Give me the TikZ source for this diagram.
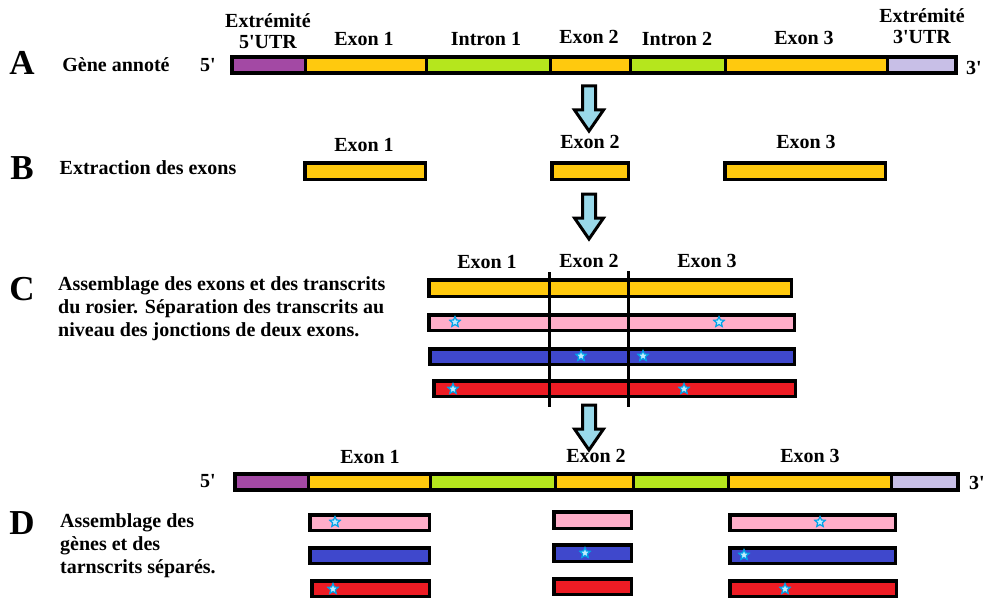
\documentclass[tikz,border=0pt]{standalone}
\usepackage{fontspec}
\setmainfont{Liberation Serif}
\usetikzlibrary{shapes.geometric,fit}
\definecolor{cpurple}{RGB}{163,73,164}
\definecolor{cyellow}{RGB}{255,201,14}
\definecolor{cgreen}{RGB}{181,230,29}
\definecolor{clav}{RGB}{200,191,231}
\definecolor{cpink}{RGB}{255,174,201}
\definecolor{cblue}{RGB}{63,72,204}
\definecolor{cred}{RGB}{237,28,36}
\definecolor{carrow}{RGB}{153,217,234}
\definecolor{cstar}{RGB}{0,162,232}
\definecolor{cstarfill}{RGB}{190,235,255}
\newcommand\mkbar[6]{\node[barbox, fill=#6, minimum width={#4-#2-3.5}, minimum height={#5-#3-3.5}] (#1) at ({(#2+#4)/2},{(#3+#5)/2}) {};}
\newcommand\mkseg[6]{\node[segbox, fill=#6, minimum width={#3-#2}, minimum height={#5-#4}] (#1) at ({(#2+#3)/2},{(#4+#5)/2}) {};}
\newcommand\mkstar[3]{\node[starmark] (#1) at (#2,#3) {};}
\newcommand\apos{\textquotesingle}
\begin{document}
\begin{tikzpicture}[x=1pt,y=-1pt,
  barbox/.style={draw=black, line width=3.5pt, rectangle, inner sep=0pt, outer sep=0pt},
  segbox/.style={draw=black, line width=3pt, rectangle, inner sep=0pt, outer sep=0pt},
  framebox/.style={draw=black, line width=4pt, rectangle, inner sep=0pt, outer sep=0pt},
  lbl/.style={font=\fontsize{20}{21}\selectfont\bfseries, inner sep=0pt},
  para/.style={font=\fontsize{20}{23}\selectfont\bfseries, inner sep=0pt, align=left, anchor=west},
  bigletter/.style={font=\fontsize{35}{36}\selectfont\bfseries, inner sep=0pt},
  starmark/.style={star, star points=5, star point ratio=2.2, minimum size=11pt, inner sep=0pt, draw=cstar, fill=cstarfill, line width=1.2pt},
  junction/.style={draw=black, line width=3pt},
  downarrow/.pic={\draw[line width=3pt, fill=carrow, line join=miter] (-6.5,0) -- (6.5,0) -- (6.5,24) -- (14.5,24) -- (0,45) -- (-14.5,24) -- (-6.5,24) -- cycle;}
]
\useasboundingbox (0,0) rectangle (985,599);

% ---------- A ----------
\node[bigletter] (LA) at (22,63) {A};
\node[lbl] (tA) at (116,65) {Gène annoté};
\node[lbl] (a5) at (208,65) {5\apos};
\node[lbl] (a3) at (974,68) {3\apos};
\mkseg{a1}{232}{305}{57}{73}{cpurple}
\mkseg{a2}{305}{426}{57}{73}{cyellow}
\mkseg{a3s}{426}{550}{57}{73}{cgreen}
\mkseg{a4}{550}{630}{57}{73}{cyellow}
\mkseg{a5s}{630}{725}{57}{73}{cgreen}
\mkseg{a6}{725}{887}{57}{73}{cyellow}
\mkseg{a7}{887}{956}{57}{73}{clav}
\node[framebox, fit=(a1)(a7)] (geneA) {};
\node[lbl, align=center] (utr5) at (268,31) {Extrémité\\5\apos UTR};
\node[lbl] (ae1) at (364,39) {Exon 1};
\node[lbl] (ai1) at (486,39) {Intron 1};
\node[lbl] (ae2) at (589,37) {Exon 2};
\node[lbl] (ai2) at (677,39) {Intron 2};
\node[lbl] (ae3) at (804,38) {Exon 3};
\node[lbl, align=center] (utr3) at (922,26) {Extrémité\\3\apos UTR};

\pic at (589,86) {downarrow};

% ---------- B ----------
\node[bigletter] (LB) at (22,168) {B};
\node[lbl] (tB) at (148,168) {Extraction des exons};
\mkbar{b1}{303}{161}{427}{181}{cyellow}
\mkbar{b2}{550}{161}{630}{181}{cyellow}
\mkbar{b3}{723}{161}{887}{181}{cyellow}
\node[lbl] (be1) at (364,145) {Exon 1};
\node[lbl] (be2) at (590,142) {Exon 2};
\node[lbl] (be3) at (806,142) {Exon 3};

\pic at (589,194) {downarrow};

% ---------- C ----------
\node[bigletter] (LC) at (22,289) {C};
\node[para] (tC) at (58,309) {Assemblage des exons et des transcrits\\du rosier. Séparation des transcrits au\\niveau des jonctions de deux exons.};
\node[lbl] (ce1) at (487,262) {Exon 1};
\node[lbl] (ce2) at (589,261) {Exon 2};
\node[lbl] (ce3) at (707,261) {Exon 3};
\mkbar{cy}{427}{278}{793}{298}{cyellow}
\mkbar{cp}{427}{313}{796}{332}{cpink}
\mkbar{cb}{428}{347}{796}{366}{cblue}
\mkbar{cr}{432}{379}{797}{398}{cred}
\coordinate (j1t) at (549,272);
\coordinate (j1b) at (549,407);
\coordinate (j2t) at (628,271);
\coordinate (j2b) at (628,407);
\draw[junction] (j1t) -- (j1b);
\draw[junction] (j2t) -- (j2b);
\mkstar{cs1}{455}{322}
\mkstar{cs2}{719}{322}
\mkstar{cs3}{581}{356}
\mkstar{cs4}{643}{356}
\mkstar{cs5}{453}{389}
\mkstar{cs6}{684}{389}

\pic at (589,405) {downarrow};

% ---------- D ----------
\node[lbl] (d5) at (208,481) {5\apos};
\node[lbl] (d3) at (977,483) {3\apos};
\mkseg{d1}{235}{308}{474}{490}{cpurple}
\mkseg{d2}{308}{430}{474}{490}{cyellow}
\mkseg{d3s}{430}{555}{474}{490}{cgreen}
\mkseg{d4}{555}{633}{474}{490}{cyellow}
\mkseg{d5s}{633}{728}{474}{490}{cgreen}
\mkseg{d6}{728}{891}{474}{490}{cyellow}
\mkseg{d7}{891}{958}{474}{490}{clav}
\node[framebox, fit=(d1)(d7)] (geneD) {};
\node[lbl] (de1) at (370,457) {Exon 1};
\node[lbl] (de2) at (596,456) {Exon 2};
\node[lbl] (de3) at (810,456) {Exon 3};

\node[bigletter] (LD) at (22,523) {D};
\node[para] (tD) at (60,546) {Assemblage des\\gènes et des\\tarnscrits séparés.};

\mkbar{dp1}{308}{513}{431}{532}{cpink}
\mkbar{db1}{308}{546}{431}{565}{cblue}
\mkbar{dr1}{310}{579}{431}{598}{cred}
\mkbar{dp2}{552}{510}{633}{530}{cpink}
\mkbar{db2}{552}{543}{633}{563}{cblue}
\mkbar{dr2}{552}{577}{633}{596}{cred}
\mkbar{dp3}{728}{513}{897}{532}{cpink}
\mkbar{db3}{728}{546}{897}{565}{cblue}
\mkbar{dr3}{728}{579}{898}{598}{cred}
\mkstar{ds1}{335}{522}
\mkstar{ds2}{333}{589}
\mkstar{ds3}{585}{553}
\mkstar{ds4}{820}{522}
\mkstar{ds5}{744}{555}
\mkstar{ds6}{785}{589}
\end{tikzpicture}
\end{document}
